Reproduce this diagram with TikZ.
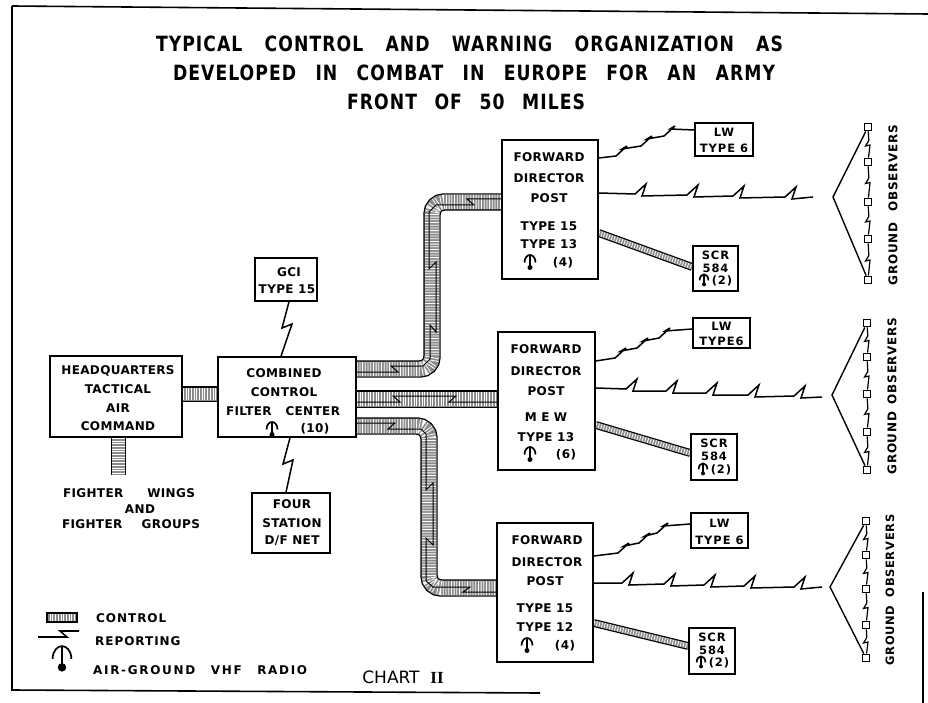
\documentclass[tikz,border=0pt]{standalone}
\usepackage{fontspec}
\setmainfont{DejaVu Sans}
\newfontfamily\titlefont[LetterSpace=5, FakeStretch=0.82]{DejaVu Sans}
\newfontfamily\chartfont{DejaVu Sans}
\newfontfamily\bxfont[LetterSpace=3]{DejaVu Sans}
\newfontfamily\smfont[LetterSpace=8]{DejaVu Sans}
\newfontfamily\lgfont[LetterSpace=8]{DejaVu Sans}
\newfontfamily\lgwfont[LetterSpace=14]{DejaVu Sans}
\newfontfamily\gofont[LetterSpace=6]{DejaVu Sans}
\newfontfamily\romfont{Liberation Serif}
\usetikzlibrary{calc,backgrounds}
\definecolor{bandgray}{gray}{0.55}
\newcommand\obsbolt[2]{\draw[rep,line width=1.2pt] (#1) -- ($(#1)!0.5!(#2)+(0.8,-4)$) -- ($(#1)!0.5!(#2)+(-2.5,1.5)$) -- ($(#1)!0.5!(#2)+(2,0.5)$) -- (#2);}
\newcommand\bandA{(ccfc.east |- 0,369) -- (432,369) -- (432,202) -- (fdp1.west |- 0,202)}
\newcommand\bandB{(ccfc.east |- 0,399) -- (fdp2.west |- 0,399)}
\newcommand\bandC{(ccfc.east |- 0,426) -- (429,426) -- (429,588) -- (fdp3.west |- 0,588)}
\newcommand\bandH{(hq.east |- 0,394) -- (ccfc.west |- 0,394)}
\newcommand\bandV{(hq.south -| 118.5,0) -- (118.5,475)}
\newcommand\thinA{(fdp1.east |- 0,233) -- (scr1.west |- 0,267)}
\newcommand\thinB{(fdp2.east |- 0,425) -- (scr2.west |- 0,453)}
\newcommand\thinC{(fdp3.east |- 0,623) -- (scr3.west |- 0,646)}
\begin{document}
\begin{tikzpicture}[x=1pt,y=-1pt,
  bx/.style={draw, line width=1.6pt, fill=white, inner sep=0pt},
  lbl/.style={font=\bxfont\bfseries\fontsize{12}{14}\selectfont, inner sep=0pt},
  sml/.style={font=\smfont\bfseries\fontsize{11.5}{13}\selectfont, inner sep=0pt},
  lgd/.style={font=\lgfont\bfseries\fontsize{12}{14}\selectfont, inner sep=0pt},
  gol/.style={font=\gofont\bfseries\fontsize{12}{14}\selectfont, inner sep=0pt, rotate=90},
  ttl/.style={font=\titlefont\bfseries\fontsize{21}{23}\selectfont, inner sep=0pt},
  rep/.style={line width=1.5pt, line join=miter},
  inrep/.style={line width=1pt, line join=miter},
  ctrl/.style={line width=1.2pt, double=bandgray, double distance=15pt, rounded corners=12pt},
  stripe/.style={line width=14pt, white, dash pattern=on 0.8pt off 1.9pt, rounded corners=12pt},
  hctrl/.style={line width=1.2pt, double=bandgray, double distance=13pt},
  hstripe/.style={line width=12.5pt, white, dash pattern=on 0.8pt off 1.9pt},
  thinctrl/.style={line width=1.2pt, double=bandgray, double distance=5.5pt},
  thinstripe/.style={line width=5pt, white, dash pattern=on 0.8pt off 1.9pt},
  obs/.style={draw, line width=1.4pt, fill=white, minimum size=7.5pt, inner sep=0pt},
  frame/.style={line width=1.6pt},
  ant/.pic={
    \draw[line width=1.9pt] (0,-6.5) -- (0,5);
    \draw[line width=1.7pt] (-5.5,0.5) .. controls (-5.5,-4.5) and (-2.5,-7) .. (0,-7) .. controls (2.5,-7) and (5.5,-4.5) .. (5.5,0.5);
    \fill (0,5.5) circle (2.5);
  }]
\useasboundingbox (0,0) rectangle (928,703);

% title
\node[ttl] (t1) at (469.5,44) {\makebox[627pt][s]{TYPICAL CONTROL AND WARNING ORGANIZATION AS}};
\node[ttl] (t2) at (474,73) {\makebox[602pt][s]{DEVELOPED IN COMBAT IN EUROPE FOR AN ARMY}};
\node[ttl] (t3) at (466,102) {\makebox[238pt][s]{FRONT OF 50 MILES}};

% boxes
\node[bx, minimum width=132pt, minimum height=81pt] (hq) at (116,396.5) {};
\node[bx, minimum width=138pt, minimum height=80pt] (ccfc) at (287,397) {};
\node[bx, minimum width=62pt, minimum height=43pt] (gci) at (286,279.5) {};
\node[bx, minimum width=78pt, minimum height=60pt] (four) at (291,523) {};
\node[bx, minimum width=96pt, minimum height=139pt] (fdp1) at (550,209.5) {};
\node[bx, minimum width=97pt, minimum height=138pt] (fdp2) at (546.5,401) {};
\node[bx, minimum width=96pt, minimum height=139pt] (fdp3) at (545,592.5) {};
\node[bx, minimum width=58pt, minimum height=33pt] (lw1) at (724,139.5) {};
\node[bx, minimum width=57pt, minimum height=30pt] (lw2) at (721.5,333) {};
\node[bx, minimum width=57pt, minimum height=35pt] (lw3) at (719.5,530.5) {};
\node[bx, minimum width=45pt, minimum height=45pt] (scr1) at (715.5,268.5) {};
\node[bx, minimum width=46pt, minimum height=46pt] (scr2) at (714,457) {};
\node[bx, minimum width=46pt, minimum height=46pt] (scr3) at (712,651) {};

% box texts
\node[lbl] (hqa) at (118,371) {HEADQUARTERS};
\node[lbl] (hqb) at (118,389.5) {TACTICAL};
\node[lbl] (hqc) at (118,408) {AIR};
\node[lbl] (hqd) at (118,426) {COMMAND};
\node[lbl] (cca) at (284,373) {COMBINED};
\node[lbl] (ccb) at (284,392) {CONTROL};
\node[lbl] (ccc) at (283,411) {\makebox[114pt][s]{FILTER CENTER}};
\pic (cant) at (272,429) {ant};
\node[lbl] (ccd) at (315,429) {(10)};
\node[lbl] (gcia) at (289,272) {GCI};
\node[lbl] (gcib) at (287,289) {TYPE 15};
\node[lbl] (foura) at (292,504) {FOUR};
\node[lbl] (fourb) at (292,523) {STATION};
\node[lbl] (fourc) at (292,541) {D/F NET};
\node[lbl] (fw) at (129,493) {\makebox[132pt][s]{FIGHTER WINGS}};
\node[lbl] (fand) at (140,509) {AND};
\node[lbl] (fg) at (131,524) {\makebox[138pt][s]{FIGHTER GROUPS}};

\node[lbl] (f1a) at (549,157) {FORWARD};
\node[lbl] (f1b) at (549,178) {DIRECTOR};
\node[lbl] (f1c) at (549,198) {POST};
\node[lbl] (f1d) at (549,226) {TYPE 15};
\node[lbl] (f1e) at (549,244) {TYPE 13};
\pic (f1ant) at (530,262) {ant};
\node[lbl] (f1f) at (563,263) {(4)};

\node[lbl] (f2a) at (546,349) {FORWARD};
\node[lbl] (f2b) at (546,371) {DIRECTOR};
\node[lbl] (f2c) at (546,391) {POST};
\node[lbl] (f2d) at (546,417) {M E W};
\node[lbl] (f2e) at (546,437) {TYPE 13};
\pic (f2ant) at (530,454) {ant};
\node[lbl] (f2f) at (566,455) {(6)};

\node[lbl] (f3a) at (547,540) {FORWARD};
\node[lbl] (f3b) at (547,562) {DIRECTOR};
\node[lbl] (f3c) at (545,581) {POST};
\node[lbl] (f3d) at (545,608) {TYPE 15};
\node[lbl] (f3e) at (545,627) {TYPE 12};
\pic (f3ant) at (527,645) {ant};
\node[lbl] (f3f) at (565,646) {(4)};

\node[sml] (l1a) at (724,132) {LW};
\node[sml] (l1b) at (724,148) {TYPE 6};
\node[sml] (l2a) at (721.5,326) {LW};
\node[sml] (l2b) at (721.5,341) {TYPE6};
\node[sml] (l3a) at (719.5,523) {LW};
\node[sml] (l3b) at (719.5,540) {TYPE 6};

\node[sml] (s1a) at (715.5,255) {SCR};
\node[sml] (s1b) at (715.5,268) {584};
\pic[scale=0.8] (s1ant) at (704,280) {ant};
\node[sml] (s1c) at (722,281) {(2)};
\node[sml] (s2a) at (714,443) {SCR};
\node[sml] (s2b) at (714,456) {584};
\pic[scale=0.8] (s2ant) at (703,469) {ant};
\node[sml] (s2c) at (721,470) {(2)};
\node[sml] (s3a) at (712,637) {SCR};
\node[sml] (s3b) at (712,650) {584};
\pic[scale=0.8] (s3ant) at (701,662) {ant};
\node[sml] (s3c) at (719,663) {(2)};

% ground observers
\foreach \i/\y in {1/127,2/162,3/202,4/239,5/280} {\node[obs] (ga\i) at (868,\y) {};}
\foreach \i/\y in {1/323,2/357,3/394,4/432,5/470} {\node[obs] (gb\i) at (867,\y) {};}
\foreach \i/\y in {1/521,2/555,3/589,4/625,5/658} {\node[obs] (gc\i) at (866,\y) {};}
\coordinate (apa) at (833,197);
\coordinate (apb) at (832,395);
\coordinate (apc) at (830,587);
\coordinate (enda) at (813,197);
\coordinate (endb) at (822,397);
\coordinate (endc) at (822,587);
\node[gol] (goa) at (893,205) {\makebox[160pt][s]{GROUND OBSERVERS}};
\node[gol] (gob) at (892,396) {\makebox[157pt][s]{GROUND OBSERVERS}};
\node[gol, font=\gofont\bfseries\fontsize{11.5}{13}\selectfont] (goc) at (890,590) {\makebox[151pt][s]{GROUND OBSERVERS}};

% legend
\coordinate (lgc0) at (47,617.5);
\coordinate (lgc1) at (77,617.5);
\node[lgd, anchor=west] (lgct) at (96,618) {CONTROL};
\coordinate (lgr0) at (38,637);
\coordinate (lgr1) at (79,631);
\draw[rep, line width=1.6pt] (lgr0) -- (67,637) -- (60,631) -- (lgr1);
\node[lgd, anchor=west] (lgrt) at (95,641) {REPORTING};
\pic[scale=1.7] (lgant) at (62,658) {ant};
\node[font=\lgwfont\bfseries\fontsize{12}{14}\selectfont, inner sep=0pt, anchor=west] (lgat) at (93,670) {\makebox[214pt][s]{AIR-GROUND VHF RADIO}};
\node[font=\chartfont\fontsize{17}{19}\selectfont, inner sep=0pt] (chart) at (403,677) {CHART\ \ {\romfont\bfseries II}};

\begin{scope}[on background layer]
  % frame
  \draw[frame] (12,6) -- (928,14);
  \draw[frame] (12,6) -- (12,690) -- (540,693);
  \draw[frame] (923,592) -- (923,703);
  % control bands
  \fill[bandgray] (47,613) rectangle (77,622);
  \draw[line width=7.5pt, white, dash pattern=on 0.8pt off 1.9pt] (lgc0) -- (lgc1);
  \draw[line width=1.1pt] (47,613) rectangle (77,622);
  \draw[hctrl] \bandH; \draw[hstripe] \bandH;
  \draw[hctrl] \bandV; \draw[hstripe] \bandV;
  \draw[ctrl] \bandA; \draw[stripe] \bandA;
  \draw[ctrl] \bandB; \draw[stripe] \bandB;
  \draw[ctrl] \bandC; \draw[stripe] \bandC;
  \draw[thinctrl] \thinA; \draw[thinstripe] \thinA;
  \draw[thinctrl] \thinB; \draw[thinstripe] \thinB;
  \draw[thinctrl] \thinC; \draw[thinstripe] \thinC;
  % reporting inside bands
  \draw[inrep] (ccfc.east |- 0,372) -- (398,372) -- (391,366) -- (423,366) -- (430,359) -- (430,325) -- (436,332) -- (436,262) -- (429,269) -- (429,212) -- (436,205) -- (474,205) -- (467,199) -- (fdp1.west |- 0,199);
  \draw[inrep] (ccfc.east |- 0,402) -- (400,402) -- (393,396) -- (456,396) -- (449,402) -- (fdp2.west |- 0,402);
  \draw[inrep] (ccfc.east |- 0,423) -- (395,423) -- (388,429) -- (421,429) -- (426,434) -- (426,490) -- (433,483) -- (433,545) -- (426,538) -- (426,581) -- (433,587) -- (470,587) -- (463,592) -- (fdp3.west |- 0,592);
  % GCI and D/F
  \draw[rep] (gci.south -| 289,0) -- (282,328) -- (292,324) -- (ccfc.north -| 281,0);
  \draw[rep] (ccfc.south -| 290,0) -- (283,464) -- (293,460) -- (four.north -| 286,0);
  % LW reporting
  \draw[rep] (fdp1.east |- 0,158) -- (616,156) -- (627,146) -- (622,149) -- (641,146) -- (652,136) -- (647,139) -- (664,136) -- (675,126) -- (670,129) -- (lw1.west |- 0,130);
  \draw[rep] (fdp2.east |- 0,361) -- (615,358) -- (626,348) -- (621,351) -- (637,348) -- (648,338) -- (643,341) -- (659,338) -- (670,328) -- (665,331) -- (lw2.west |- 0,329);
  \draw[rep] (fdp3.east |- 0,556) -- (618,553) -- (629,543) -- (624,546) -- (639,543) -- (650,533) -- (645,536) -- (657,533) -- (668,523) -- (663,526) -- (lw3.west |- 0,524);
  % long reporting lines
  \draw[rep] (fdp1.east |- 0,193) -- (635,194) -- (646,184) -- (642,196) -- (687,195) -- (698,185) -- (694,197) -- (733,196) -- (744,186) -- (740,198) -- (785,197) -- (796,187) -- (792,199) -- (enda);
  \draw[rep] (fdp2.east |- 0,388) -- (626,389) -- (637,379) -- (633,391) -- (666,391) -- (677,381) -- (673,393) -- (706,393) -- (717,383) -- (713,395) -- (748,395) -- (759,385) -- (755,397) -- (794,396) -- (805,386) -- (801,398) -- (endb);
  \draw[rep] (fdp3.east |- 0,583) -- (622,583) -- (633,573) -- (629,585) -- (664,584) -- (675,574) -- (671,586) -- (704,585) -- (715,575) -- (711,587) -- (744,586) -- (755,576) -- (751,588) -- (794,587) -- (805,577) -- (801,589) -- (endc);
  % observers
  \draw[line width=1.4pt] (ga1) -- (apa) -- (ga5);
  \draw[line width=1.4pt] (gb1) -- (apb) -- (gb5);
  \draw[line width=1.4pt] (gc1) -- (apc) -- (gc5);
  \obsbolt{ga1}{ga2}\obsbolt{ga2}{ga3}\obsbolt{ga3}{ga4}\obsbolt{ga4}{ga5}
  \obsbolt{gb1}{gb2}\obsbolt{gb2}{gb3}\obsbolt{gb3}{gb4}\obsbolt{gb4}{gb5}
  \obsbolt{gc1}{gc2}\obsbolt{gc2}{gc3}\obsbolt{gc3}{gc4}\obsbolt{gc4}{gc5}
\end{scope}
\end{tikzpicture}
\end{document}
